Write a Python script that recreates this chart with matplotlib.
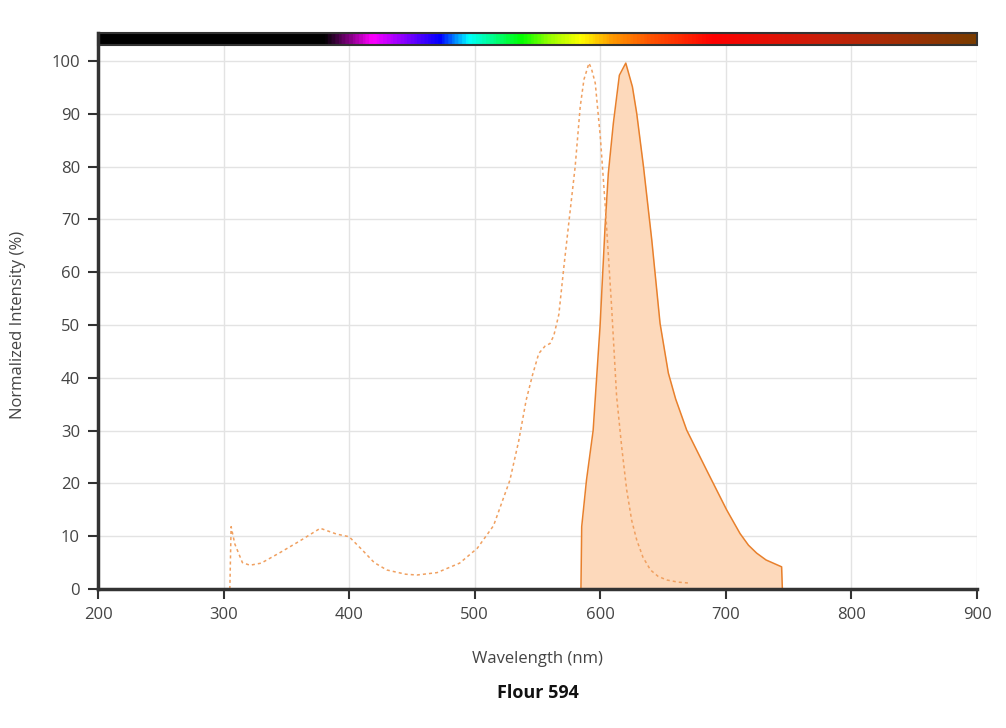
import numpy as np
import matplotlib
matplotlib.use("Agg")
import matplotlib.pyplot as plt
from matplotlib.colors import LinearSegmentedColormap
from matplotlib.patches import Rectangle

plt.rcParams['font.family'] = ['Open Sans', 'DejaVu Sans']

# Excitation spectrum (dashed)
ex_wl = [305, 306, 309, 315, 321, 330, 345, 360, 377, 390, 400, 410, 420, 430, 445, 454, 470, 488, 502, 515, 528,
         535, 541, 546, 551, 556, 560, 563, 567, 571, 575, 580, 584, 587, 591, 593, 596, 600, 604, 609, 613,
         617, 621, 625, 629, 634, 640, 646, 653, 662, 672]
ex_val = [0, 11.8, 8.5, 5.0, 4.5, 4.9, 6.9, 9.0, 11.5, 10.4, 9.9, 7.5, 5.0, 3.6, 2.8, 2.65, 3.1, 4.9, 7.7, 12.0, 20.6,
          28.0, 35.8, 40.5, 44.6, 46.0, 46.5, 48.0, 52.0, 61.0, 69.5, 80.0, 91.3, 96.5, 99.6, 98.5, 95.8, 85.7, 72.4, 53.5, 36.5,
          27.0, 18.8, 13.0, 9.3, 6.0, 3.6, 2.4, 1.7, 1.3, 1.1]

# Emission spectrum (solid, filled)
em_wl = [584.6, 585.2, 589, 594.3, 599.8, 603.8, 606.4, 610.4, 615.2, 620.3, 625.6, 629, 634.4, 641, 647.6,
         654.2, 660, 668.8, 684.7, 700.6, 711.3, 718, 724.5, 732, 744.4, 745]
em_val = [0, 11.8, 20.6, 30.0, 49.7, 68.6, 78.7, 88.2, 97.3, 99.6, 95.1, 90.1, 80.0, 66.1, 50.3,
          40.9, 36.0, 30.1, 22.5, 15.0, 10.5, 8.3, 6.8, 5.5, 4.2, 0]

x_ticks = [200, 300, 400, 500, 600, 700, 800, 900]
y_ticks = [0, 10, 20, 30, 40, 50, 60, 70, 80, 90, 100]

spectrum_stops = [(200, '#000000'), (380, '#000000'), (418, '#ff00ff'), (445, '#8000ff'), (472, '#0000ff'),
                  (495, '#00ffff'), (537, '#00ff00'), (560, '#99ff00'), (585, '#ffff00'), (610, '#ff9900'),
                  (640, '#ff5500'), (690, '#ff0000'), (780, '#c8200a'), (900, '#7a3c00')]

fig = plt.figure(figsize=(10.06, 7.28), dpi=100)
ax = fig.add_axes([98/1006, 1-589/728, (977-98)/1006, (589-33)/728])

ax.set_xlim(200, 900)
ax.set_ylim(0, 105.3)

ax.fill_between(em_wl, em_val, 0, color='#fdd9bb', zorder=2, linewidth=0)
ax.plot(em_wl, em_val, color='#e8802c', linewidth=1.1, zorder=3)
ax.plot(ex_wl, ex_val, color='#f0a060', linewidth=1.1, linestyle=(0, (2, 2)), zorder=3)

# spectrum bar
pos = [(w - 200) / 700 for w, c in spectrum_stops]
cmap = LinearSegmentedColormap.from_list('spec', list(zip(pos, [c for w, c in spectrum_stops])))
grad = np.linspace(0, 1, 700).reshape(1, -1)
ax.imshow(grad, cmap=cmap, aspect='auto', extent=[200, 900, 103.0, 105.3], zorder=4)
ax.add_patch(Rectangle((200, 103.0), 700, 2.3, fill=False, edgecolor='#333333', linewidth=1.5, zorder=5, clip_on=False))

ax.set_xticks(x_ticks)
ax.set_yticks(y_ticks)
ax.grid(True, color='#e3e3e3', linewidth=1, zorder=0)
ax.set_axisbelow(True)
for s in ['top', 'right']:
    ax.spines[s].set_visible(False)
for s in ['left', 'bottom']:
    ax.spines[s].set_color('#333333')
    ax.spines[s].set_linewidth(2.5)
    ax.spines[s].set_zorder(6)
ax.tick_params(axis='both', direction='out', length=7, width=1.5, color='#333333',
               labelsize=12, labelcolor='#444444', pad=6)

fig.text((98+977)/2/1006, 1-659/728, 'Wavelength (nm)', ha='center', va='center',
         fontsize=12, color='#444444')
fig.text(18/1006, 1-325/728, 'Normalized Intensity (%)', ha='center', va='center',
         rotation=90, fontsize=12, color='#444444')
fig.text((98+977)/2/1006, 1-693/728, 'Flour 594', ha='center', va='center', fontsize=13,
         fontweight='bold', color='#111111')

fig.savefig('out.png', dpi=100)
